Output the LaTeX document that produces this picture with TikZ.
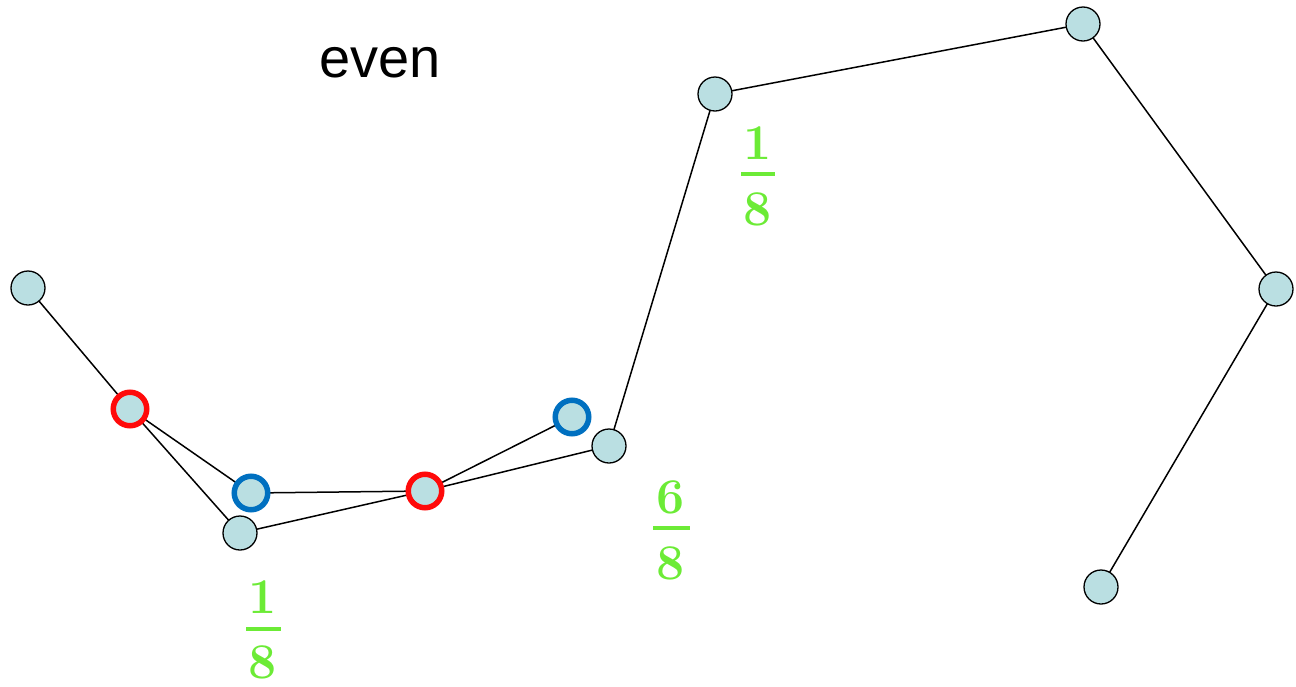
\documentclass[tikz,border=0pt]{standalone}
\usepackage{fontspec}
\newfontfamily\helv{Liberation Sans}
\definecolor{nodefill}{RGB}{186,223,226}
\definecolor{redring}{RGB}{255,10,10}
\definecolor{bluering}{RGB}{0,112,192}
\definecolor{fracgreen}{RGB}{108,235,54}
\begin{document}
\begin{tikzpicture}[x=1pt,y=-1pt,
  ringgray/.style={circle,draw=black,line width=1.3pt,fill=nodefill,minimum size=34pt,inner sep=0pt},
  ringred/.style={circle,draw=redring,line width=5.5pt,fill=nodefill,minimum size=33.5pt,inner sep=0pt},
  ringblue/.style={circle,draw=bluering,line width=5.5pt,fill=nodefill,minimum size=33.5pt,inner sep=0pt},
  link/.style={draw=black,line width=1.5pt},
  fracdigit/.style={text=fracgreen,anchor=base,inner sep=0pt,font=\fontsize{50}{60}\selectfont\bfseries},
  fracbar/.style={draw=fracgreen,line width=3.5pt}]
\useasboundingbox (0,0) rectangle (1296,686);
\node[font=\helv\fontsize{56}{66}\selectfont] (title) at (380,63) {even};
\coordinate (pA) at (28,288);
\coordinate (pR1) at (130,409);
\coordinate (pB1) at (251,493);
\coordinate (pG1) at (240,533);
\coordinate (pR2) at (425,491);
\coordinate (pB2) at (572,417);
\coordinate (pG2) at (609,446);
\coordinate (pG3) at (715,94);
\coordinate (pG4) at (1083,24);
\coordinate (pG5) at (1276,289);
\coordinate (pG6) at (1101,587);
\draw[link] (pA) -- (pR1) -- (pB1) -- (pR2) -- (pB2);
\draw[link] (pR1) -- (pG1) -- (pR2) -- (pG2) -- (pG3) -- (pG4) -- (pG5) -- (pG6);
\node[ringgray] (A) at (pA) {};
\node[ringred] (R1) at (pR1) {};
\node[ringblue] (B1) at (pB1) {};
\node[ringgray] (G1) at (pG1) {};
\node[ringred] (R2) at (pR2) {};
\node[ringblue] (B2) at (pB2) {};
\node[ringgray] (G2) at (pG2) {};
\node[ringgray] (G3) at (pG3) {};
\node[ringgray] (G4) at (pG4) {};
\node[ringgray] (G5) at (pG5) {};
\node[ringgray] (G6) at (pG6) {};
% fraction 1/8 bottom left
\node[fracdigit] (f1n) at (263,613) {1};
\node[fracdigit] (f1d) at (263,678) {8};
\coordinate (f1a) at (246,629);
\coordinate (f1b) at (281,629);
\draw[fracbar] (f1a) -- (f1b);
% fraction 6/8
\node[fracdigit] (f2n) at (671,513) {6};
\node[fracdigit] (f2d) at (671,579) {8};
\coordinate (f2a) at (653,528);
\coordinate (f2b) at (690,528);
\draw[fracbar] (f2a) -- (f2b);
% fraction 1/8 top
\node[fracdigit] (f3n) at (758,159) {1};
\node[fracdigit] (f3d) at (758,225) {8};
\coordinate (f3a) at (741,174);
\coordinate (f3b) at (775,174);
\draw[fracbar] (f3a) -- (f3b);
\end{tikzpicture}
\end{document}
